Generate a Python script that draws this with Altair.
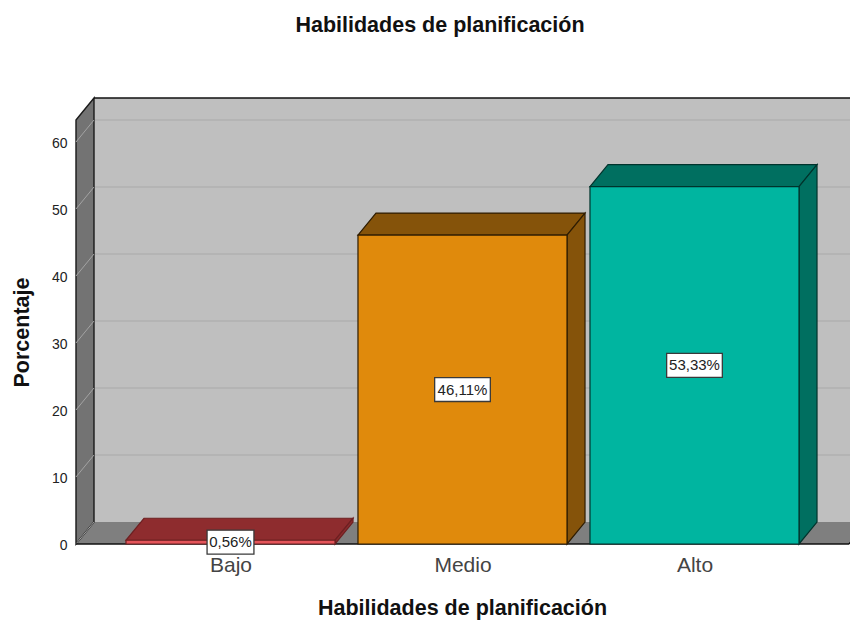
import altair as alt
import pandas as pd

# Data
categories = ["Bajo", "Medio", "Alto"]
positions = [1, 2, 3]
values = [0.56, 46.11, 53.33]
value_labels = ["0,56%", "46,11%", "53,33%"]
box_half_widths = [0.101, 0.12, 0.12]
grid_values = [10, 20, 30, 40, 50, 60]
tick_values = [0, 10, 20, 30, 40, 50, 60]

# Colours (front, dark faces, outline)
front_colors = ["#e4555a", "#e08a0c", "#00b5a0"]
dark_colors = ["#8e2c2e", "#85530a", "#006f60"]
edge_colors = ["#6e2022", "#2e1c02", "#00332c"]

# 3D frame, in axis units
bar_half = 0.4505
depth_x = 0.0776
depth_y = 3.28
box_half_height = 1.79
wall_left = 0.334
wall_right = 3.666
wall_top = 63.28
x_domain = [0.3168, 3.6703]
y_domain = [-1.045, 67.164]

X = alt.Scale(domain=x_domain, nice=False, zero=False)
Y = alt.Scale(domain=y_domain, nice=False, zero=False)
cat_expr = "['" + "','".join(categories) + "'][datum.value - 1]"
X_AXIS = alt.Axis(
    values=positions, labelExpr=cat_expr, domain=False, ticks=False, grid=False,
    labelFont="Liberation Sans", labelFontSize=21, labelColor="#444444", labelPadding=3,
    title="Habilidades de planificación", titleFont="Liberation Sans", titleFontSize=21.5,
    titleFontWeight="bold", titleColor="#111111", titleX=390, titleY=57, titleBaseline="middle",
    titleAlign="center")
Y_AXIS = alt.Axis(
    values=tick_values, domain=False, ticks=False, grid=False,
    labelFont="Liberation Sans", labelFontSize=14, labelColor="#222222", labelPadding=5,
    labelOffset=2,
    title="Porcentaje", titleFont="Liberation Sans", titleFontSize=21.5, titleFontWeight="bold",
    titleColor="#111111", titleX=-50, titleY=238, titleAngle=270, titleAlign="center",
    titleBaseline="middle")


def xenc(field="x"):
    return alt.X(f"{field}:Q", scale=X, axis=X_AXIS)


def yenc(field="y"):
    return alt.Y(f"{field}:Q", scale=Y, axis=Y_AXIS, stack=None)


def area_layer(rows, fill, stroke=None, width=1.0):
    df = pd.DataFrame(rows, columns=["x", "y", "y2"])
    kw = dict(stroke=stroke, strokeWidth=width) if stroke else {}
    return alt.Chart(df).mark_area(fill=fill, orient="vertical", clip=True, **kw).encode(
        x=xenc(), y=yenc(), y2="y2:Q"
    )


def line_layer(rows, color, width=1.0):
    df = pd.DataFrame(rows, columns=["x", "y", "g"])
    return alt.Chart(df).mark_line(color=color, strokeWidth=width, clip=True).encode(
        x=xenc(), y=yenc(), detail="g:N"
    )


layers = []

# Back wall
back = pd.DataFrame({"x": [wall_left + depth_x], "x2": [wall_right + depth_x],
                     "y": [depth_y], "y2": [wall_top + depth_y]})
layers.append(alt.Chart(back).mark_rect(fill="#bfbfbf", clip=True).encode(x=xenc(), x2="x2:Q", y=yenc(), y2="y2:Q"))

# Back wall grid lines and left wall diagonals
grid_rows, diag_rows = [], []
for g in grid_values:
    grid_rows += [(wall_left + depth_x, g + depth_y, g), (wall_right + depth_x, g + depth_y, g)]
for g in [0] + grid_values:
    diag_rows += [(wall_left, g, g), (wall_left + depth_x, g + depth_y, g)]
layers.append(line_layer(grid_rows, "#b0b0b0", 1.6))

# Floor
layers.append(area_layer([
    (wall_left, 0, 0),
    (wall_left + depth_x, depth_y, 0),
    (wall_right, depth_y, 0),
    (wall_right + depth_x, depth_y, depth_y),
], "#7f7f7f"))

# Left wall
layers.append(area_layer([
    (wall_left, wall_top, 0),
    (wall_left + depth_x, wall_top + depth_y, depth_y),
], "#737373", "#1a1a1a", 1.4))
layers.append(line_layer(diag_rows, "#a3a3a3", 1.0))

# Frame edges
layers.append(line_layer([
    (wall_left + depth_x, wall_top + depth_y, "top"),
    (wall_right + depth_x, wall_top + depth_y, "top"),
    (wall_left, 0, "front"),
    (wall_right, 0, "front"),
    (wall_right, 0, "end"),
    (wall_right + depth_x, depth_y, "end"),
], "#111111", 1.4))

# Bars
for p, v, fc, dc, ec in zip(positions, values, front_colors, dark_colors, edge_colors):
    x0, x1 = p - bar_half, p + bar_half
    # top face
    layers.append(area_layer([
        (x0, v, v),
        (x0 + depth_x, v + depth_y, v),
        (x1, v + depth_y, v),
        (x1 + depth_x, v + depth_y, v + depth_y),
    ], dc, ec, 1.2))
    # side face
    layers.append(area_layer([
        (x1, v, 0),
        (x1 + depth_x, v + depth_y, depth_y),
    ], dc, ec, 1.2))
    # front face
    front = pd.DataFrame({"x": [x0], "x2": [x1], "y": [0], "y2": [v]})
    layers.append(alt.Chart(front).mark_rect(fill=fc, stroke=ec, strokeWidth=1.2).encode(
        x=xenc(), x2="x2:Q", y=yenc(), y2="y2:Q"))

# Value labels
labels = pd.DataFrame({
    "x": positions,
    "mid": [v / 2 for v in values],
    "label": value_labels,
    "hw": box_half_widths,
})
labels["x0"] = labels["x"] - labels["hw"]
labels["x1"] = labels["x"] + labels["hw"]
labels["y0"] = labels["mid"] - box_half_height
labels["y1"] = labels["mid"] + box_half_height
layers.append(alt.Chart(labels).mark_rect(fill="white", stroke="#3a3a3a", strokeWidth=1.3).encode(
    x=xenc("x0"), x2="x1:Q", y=yenc("y0"), y2="y1:Q"))
layers.append(alt.Chart(labels).mark_text(font="Liberation Sans", fontSize=15, color="#222222").encode(
    x=xenc(), y=yenc("mid"), text="label:N"))

chart = alt.layer(*layers).properties(
    width=778, height=457,
    padding={"left": 64, "top": 86, "right": 0, "bottom": 69},
    autosize=alt.AutoSizeParams(type="none"),
    title=alt.TitleParams("Habilidades de planificación", font="Liberation Sans", fontSize=21.5,
                          fontWeight="bold", color="#111111", anchor="middle", dx=-21, offset=58),
).configure_view(stroke=None)

chart.save("out.html", embed_options={"renderer": "svg", "actions": False})
